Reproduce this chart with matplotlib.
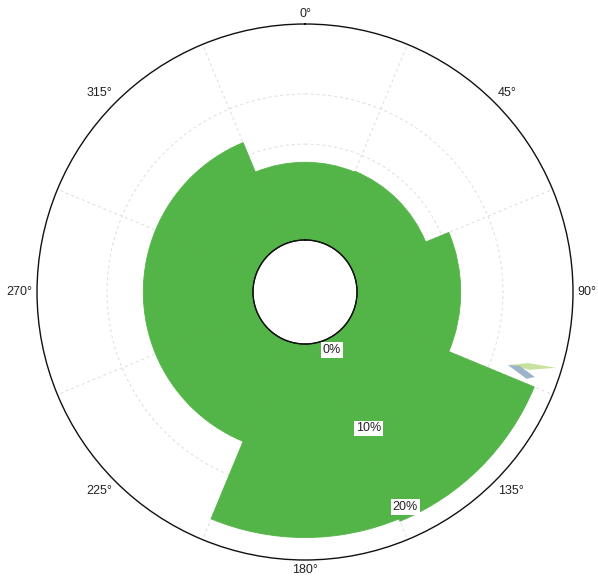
import matplotlib
matplotlib.use("Agg")
import matplotlib.pyplot as plt
import numpy as np

plt.rcParams['font.family'] = ['Liberation Sans', 'DejaVu Sans']

# wind direction sectors (deg) and frequency (%)
directions = [0, 45, 90, 135, 180, 225, 270, 315]
freq = [7.6, 7.7, 10.6, 21.3, 21.0, 11.3, 11.3, 11.3]

# small spike artefact near 110 deg (theta deg, r %)
spike_green_t = [109.8, 107.7, 106.8, 109.1]
spike_green_r = [17.55, 19.66, 22.91, 20.13]
spike_blue_t = [109.8, 109.0, 110.3, 111.4]
spike_blue_r = [17.55, 18.86, 20.94, 20.13]

angle_labels = ["0°", "45°", "90°", "135°", "180°", "225°", "270°", "315°"]
r_ticks = [0, 10, 20]
r_tick_labels = ["0%", "10%", "20%"]
grid_r = [3.9, 9.7, 15.5]

r_hole = -1.4
r_out = 23.6
r_origin = -7.42
green = "#53b447"

fig = plt.figure(figsize=(5.98, 5.80), dpi=100)
ax = fig.add_axes([0.0619, 0.0345, 0.8963, 0.9241], projection="polar")
ax.set_theta_zero_location("N")
ax.set_theta_direction(-1)
ax.set_rorigin(r_origin)
ax.set_ylim(r_hole, r_out)

ax.grid(False)
ax.set_xticks([])
ax.set_yticks([])
for name, sp in ax.spines.items():
    sp.set_visible(name == "polar")
ax.spines["polar"].set_linewidth(1.0)
ax.spines["polar"].set_color("#111111")

# dashed grid
tt = np.linspace(0, 2 * np.pi, 361)
for g in grid_r:
    ax.plot(tt, np.full_like(tt, g), color="#dddddd", lw=0.7, ls=(0, (3, 3)), zorder=1)
for d in np.arange(22.5, 360, 45):
    ax.plot([np.deg2rad(d)] * 2, [r_hole, r_out], color="#dddddd", lw=0.7, ls=(0, (3, 3)), zorder=1)

theta = np.deg2rad(directions)
vals = np.array(freq)
ax.bar(theta, vals - r_hole, width=np.deg2rad(45), bottom=r_hole,
       color=green, edgecolor=green, linewidth=0.6, zorder=2)

ax.fill(np.deg2rad(spike_green_t), spike_green_r, color="#c6e29e", lw=0, zorder=2)
ax.fill(np.deg2rad(spike_blue_t), spike_blue_r, color="#9cb3c9", lw=0, zorder=2)

# hole outline
ax.fill(tt, np.full_like(tt, r_hole), color="white", lw=0, zorder=3)
ax.plot(tt, np.full_like(tt, r_hole), color="#111111", lw=1.0, zorder=3, clip_on=False)

# direction labels
for d, lab in zip(directions, angle_labels):
    s, c = np.sin(np.deg2rad(d)), np.cos(np.deg2rad(d))
    ha = "center" if abs(s) < 0.1 else ("left" if s > 0 else "right")
    va = "center" if abs(c) < 0.1 else ("bottom" if c > 0 else "top")
    ax.annotate(lab, xy=(np.deg2rad(d), r_out), xytext=(3.2 * s, 3.2 * c),
                textcoords="offset points", ha=ha, va=va, fontsize=9,
                color="#222222", annotation_clip=False)

# radial labels
for r, lab in zip(r_ticks, r_tick_labels):
    ax.text(np.deg2rad(155), r, lab, ha="center", va="center", fontsize=9,
            color="#222222", zorder=5,
            bbox=dict(boxstyle="square,pad=0.15", fc="white", ec="none"))

fig.savefig("out.png", dpi=100)
